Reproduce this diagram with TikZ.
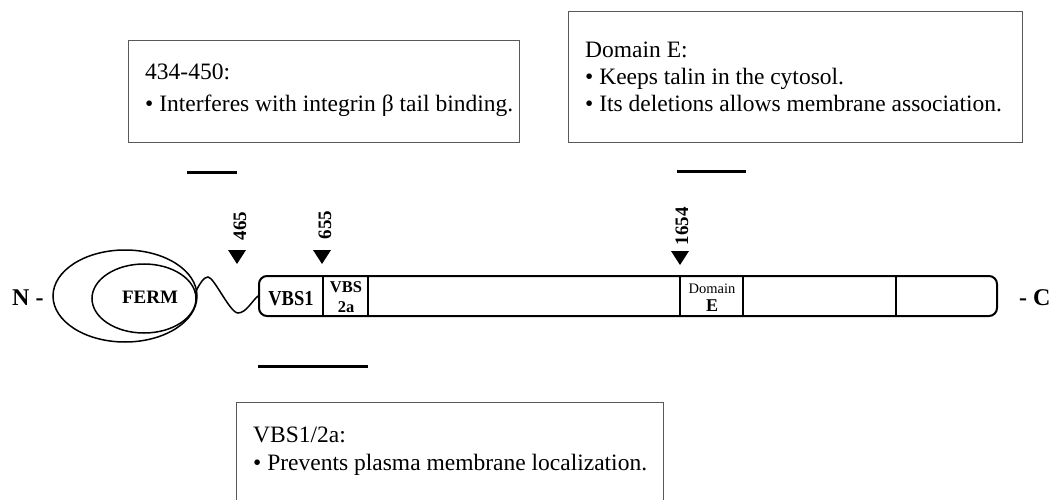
\documentclass[tikz,border=0pt]{standalone}
\usepackage{fontspec}
\setmainfont{Liberation Serif}
\usetikzlibrary{positioning}
\begin{document}
\begin{tikzpicture}[x=1pt,y=-1pt,
  infobox/.style={draw=black!65,line width=0.9pt,rectangle,anchor=north west,inner sep=0pt},
  infotext/.style={anchor=base west,inner sep=0pt,font=\fontsize{23.5}{28}\selectfont},
  rangebar/.style={line width=3pt},
  divider/.style={line width=2pt},
  marker/.style={fill=black},
  sitenum/.style={rotate=90,inner sep=0pt,font=\fontsize{19}{20}\selectfont\bfseries},
  endlabel/.style={inner sep=0pt,font=\fontsize{24}{26}\selectfont\bfseries}]
\clip (0,0) rectangle (1061,500);
\fill[white] (0,0) rectangle (1061,500);

% info boxes
\node[infobox,minimum width=391pt,minimum height=102pt] (boxA) at (128,40) {};
\node[infotext] (boxAt1) at (145,80) {434-450:};
\node[infotext] (boxAt2) at (145,112) {• Interferes with integrin β tail binding.};

\node[infobox,minimum width=454pt,minimum height=131pt] (boxB) at (568,11) {};
\node[infotext] (boxBt1) at (585,58) {Domain E:};
\node[infotext] (boxBt2) at (585,85) {• Keeps talin in the cytosol.};
\node[infotext] (boxBt3) at (585,112) {• Its deletions allows membrane association.};

\node[infobox,minimum width=427pt,minimum height=140pt] (boxC) at (236,402) {};
\node[infotext] (boxCt1) at (253,442) {VBS1/2a:};
\node[infotext] (boxCt2) at (253,470) {• Prevents plasma membrane localization.};

% range bars
\draw[rangebar] (187,173) -- (237,173);
\draw[rangebar] (677,172) -- (746,172);
\draw[rangebar] (258,366) -- (368,366);

% termini
\node[endlabel,anchor=base west] (nterm) at (12,305) {N -};
\node[endlabel,anchor=base west] (cterm) at (1019,305) {- C};

% FERM ellipses
\draw[line width=1.5pt] (125,296) ellipse [x radius=72, y radius=46];
\draw[line width=1.5pt] (144,298.5) ellipse [x radius=52, y radius=34.5];
\node[inner sep=0pt,anchor=base,font=\fontsize{19}{20}\selectfont\bfseries] (ferm) at (150,303) {FERM};

% bar
\node[draw,line width=2pt,rounded corners=8pt,minimum width=738pt,minimum height=40pt,inner sep=0pt] (bar) at (628,296) {};
\foreach \xx in {323,368,680,743,896} \draw[divider] (\xx,276) -- (\xx,316);

% linker wave
\coordinate (wstart) at (195,293);
\coordinate (wend) at (bar.west);
\draw[line width=1.5pt] (wstart) .. controls (200,283) and (204,277) .. (208,277)
  .. controls (214,277) and (230,313) .. (238,313)
  .. controls (246,313) and (252,301) .. (wend);

% domain labels
\node[inner sep=0pt,anchor=base,yscale=1.15,font=\fontsize{18.5}{20}\selectfont\bfseries] (vbs1) at (291,305) {VBS1};
\node[inner sep=0pt,anchor=base,font=\fontsize{16.5}{18}\selectfont\bfseries] (vbs2a) at (346,292) {VBS};
\node[inner sep=0pt,anchor=base,font=\fontsize{16.5}{18}\selectfont\bfseries] (vbs2b) at (346,312) {2a};
\node[inner sep=0pt,anchor=base,font=\fontsize{14.5}{16}\selectfont] (dome) at (712,293) {Domain};
\node[inner sep=0pt,anchor=base,font=\fontsize{18}{20}\selectfont\bfseries] (dome2) at (712,311) {E};

% markers
\fill[marker] (228,250) -- (246,250) -- (237,264) -- cycle;
\fill[marker] (313,250) -- (331,250) -- (322,264) -- cycle;
\fill[marker] (671,251) -- (689,251) -- (680,265) -- cycle;
\node[sitenum] (s465) at (240,226) {465};
\node[sitenum] (s655) at (325,225) {655};
\node[sitenum] (s1654) at (682,226) {1654};
\end{tikzpicture}
\end{document}
